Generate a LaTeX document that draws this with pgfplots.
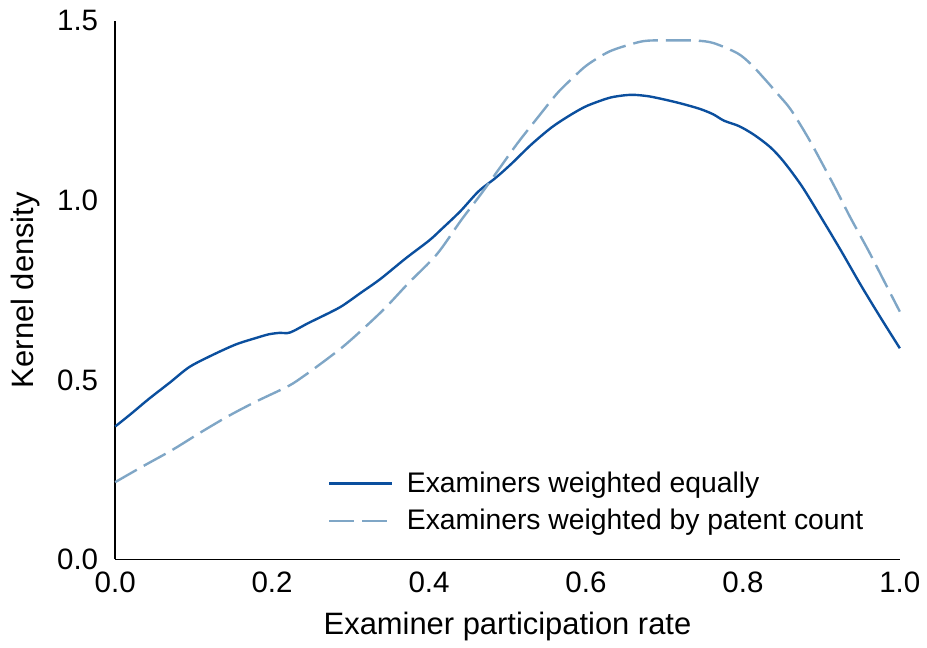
\documentclass[border={2pt 0pt 0pt 2pt}]{standalone}
\usepackage{fontspec}
\setmainfont{Liberation Sans}
\usepackage{pgfplots}
\pgfplotsset{compat=1.18}
\definecolor{solidblue}{HTML}{0B4F9E}
\definecolor{dashblue}{HTML}{7FA6C6}
\begin{document}
\begin{tikzpicture}
\begin{axis}[
    scale only axis,
    width=393.5pt,
    height=270pt,
    xmin=0, xmax=1,
    ymin=0, ymax=1.5,
    axis lines*=left,
    axis line style={line width=0.8pt},
    xtick={0,0.2,0.4,0.6,0.8,1.0},
    ytick={0,0.5,1.0,1.5},
    xticklabel style={yshift=-3pt,/pgf/number format/.cd,fixed,fixed zerofill,precision=1},
    yticklabel style={xshift=-5pt,/pgf/number format/.cd,fixed,fixed zerofill,precision=1},
    /pgf/number format/assume math mode=true,
    major tick length=0pt,
    tick label style={font=\fontsize{14.8}{16}\selectfont},
    label style={font=\fontsize{15.5}{18}\selectfont},
    xlabel={Examiner participation rate},
    xlabel style={yshift=-2.5pt},
    ylabel={Kernel density},
    ylabel style={yshift=2pt},
    clip=false,
    legend cell align=left,
    legend style={at={(axis cs:0.263,0.267)}, anchor=north west, draw=none, fill=none,
        font=\fontsize{14.2}{16}\selectfont, row sep=3pt},
    legend image code/.code={\draw[#1] (0cm,0cm) -- (1.1cm,0cm); \path (1.28cm,0cm);},
]
\addplot[solidblue, line width=1.2pt, smooth] coordinates {
(0,0.370) (0.02,0.405) (0.043,0.447) (0.07,0.493) (0.094,0.535) (0.12,0.565)
(0.153,0.598) (0.18,0.617) (0.196,0.627) (0.21,0.631) (0.223,0.632) (0.246,0.658)
(0.274,0.688) (0.29,0.707) (0.314,0.744) (0.338,0.781) (0.37,0.838) (0.40,0.888)
(0.416,0.920) (0.44,0.970) (0.463,1.025) (0.485,1.063) (0.505,1.102) (0.53,1.155)
(0.556,1.203) (0.578,1.235) (0.598,1.260) (0.615,1.275) (0.632,1.287) (0.650,1.293)
(0.662,1.294) (0.68,1.290) (0.70,1.281) (0.721,1.270) (0.745,1.255) (0.762,1.240)
(0.776,1.222) (0.795,1.207) (0.814,1.183) (0.835,1.148) (0.852,1.108) (0.875,1.040)
(0.899,0.955) (0.925,0.860) (0.95,0.765) (0.975,0.675) (1.0,0.588)
};
\addlegendentry{Examiners weighted equally}
\addplot[dashblue, line width=1.2pt, smooth, dash pattern=on 12.5pt off 4pt] coordinates {
(0,0.215) (0.036,0.260) (0.073,0.305) (0.11,0.355) (0.145,0.400) (0.18,0.440)
(0.221,0.483) (0.24,0.510) (0.259,0.540) (0.289,0.590) (0.315,0.640) (0.344,0.700)
(0.374,0.770) (0.41,0.850) (0.441,0.945) (0.467,1.020) (0.49,1.090) (0.513,1.160)
(0.54,1.235) (0.564,1.300) (0.585,1.345) (0.602,1.378) (0.63,1.415) (0.662,1.438)
(0.679,1.445) (0.71,1.446) (0.742,1.445) (0.763,1.438) (0.793,1.410) (0.81,1.380)
(0.827,1.340) (0.845,1.295) (0.861,1.253) (0.883,1.175) (0.903,1.095) (0.92,1.025)
(0.937,0.952) (0.96,0.860) (0.98,0.775) (1.0,0.690)
};
\addlegendentry{Examiners weighted by patent count}
\end{axis}
\end{tikzpicture}
\end{document}
